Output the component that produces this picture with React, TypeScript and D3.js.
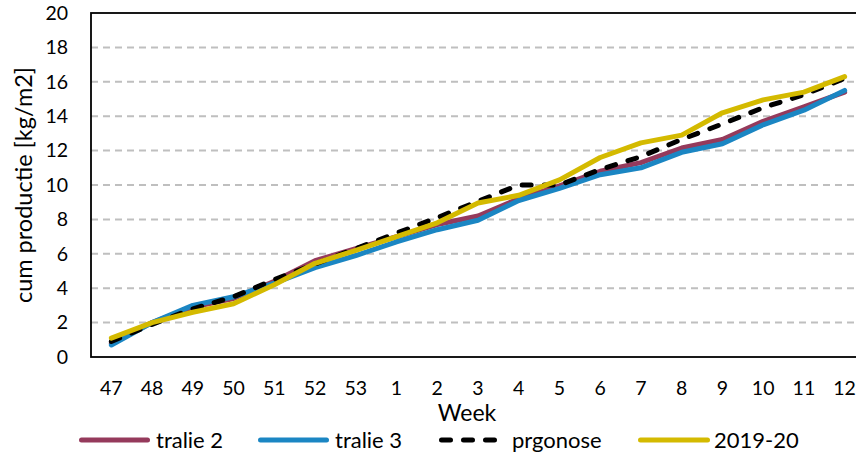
import React from "react";
import * as d3 from "d3";

const weeks = ["47","48","49","50","51","52","53","1","2","3","4","5","6","7","8","9","10","11","12"];
const tralie2 = [0.8, 2.0, 2.9, 3.4, 4.4, 5.6, 6.3, 7.0, 7.7, 8.2, 9.2, 9.95, 10.8, 11.3, 12.15, 12.65, 13.7, 14.55, 15.4];
const tralie3 = [0.7, 2.0, 3.0, 3.5, 4.3, 5.2, 5.9, 6.7, 7.4, 7.95, 9.1, 9.8, 10.6, 11.0, 11.9, 12.4, 13.5, 14.35, 15.5];
const prognose = [0.9, 1.9, 2.8, 3.5, 4.5, 5.4, 6.3, 7.2, 8.1, 9.05, 10.0, 10.0, 10.9, 11.65, 12.65, 13.55, 14.5, 15.25, 16.2];
const season1920 = [1.1, 2.0, 2.6, 3.1, 4.2, 5.45, 6.2, 7.0, 7.8, 8.95, 9.4, 10.3, 11.6, 12.45, 12.9, 14.2, 14.95, 15.4, 16.3];
const yTicks = [0, 2, 4, 6, 8, 10, 12, 14, 16, 18, 20];

const series = [
  { name: "tralie 2", values: tralie2, color: "#953a5c", dash: null },
  { name: "tralie 3", values: tralie3, color: "#1b86c3", dash: null },
  { name: "prgonose", values: prognose, color: "#000000", dash: "9 13" },
  { name: "2019-20", values: season1920, color: "#d4ba00", dash: null },
];

const FONT = "Lato, 'Open Sans', sans-serif";

export default function App() {
  const W = 856, H = 454;
  const left = 91, right = 865, top = 13, bottom = 357;
  const x = d3.scalePoint<string>().domain(weeks).range([left, right]).padding(0.5);
  const y = d3.scaleLinear().domain([0, 20]).range([bottom, top]);
  const line = (vals: number[]) =>
    d3.line<number>().x((_, i) => x(weeks[i]) as number).y((d) => y(d))(vals) || "";

  const legendItems = [
    { x1: 79, x2: 150, tx: 156 },
    { x1: 258, x2: 329, tx: 335 },
    { x1: 439, x2: 500, tx: 512 },
    { x1: 638, x2: 710, tx: 714 },
  ];
  const ly = 440;

  return (
    <svg width={W} height={H} style={{ position: "absolute", left: 0, top: 0, background: "#fff" }} fontFamily={FONT}>
      <rect x={0} y={0} width={W} height={H} fill="#fff" />
      {yTicks.filter((t) => t > 0 && t < 20).map((t) => (
        <line key={t} x1={left} x2={right} y1={y(t)} y2={y(t)} stroke="#bfbfbf" strokeWidth={2} strokeDasharray="7 5" />
      ))}
      {series.map((s) => (
        <path key={s.name} d={line(s.values)} fill="none" stroke={s.color} strokeWidth={5}
          strokeDasharray={s.dash || undefined} strokeLinecap="round" strokeLinejoin="round" />
      ))}
      <rect x={left} y={top} width={right - left} height={bottom - top} fill="none" stroke="#000" strokeWidth={1.8} />
      {yTicks.map((t) => (
        <text key={t} x={68} y={y(t)} dy="0.35em" textAnchor="end" fontSize={19.5} fill="#000">{t}</text>
      ))}
      {weeks.map((w) => (
        <text key={w} x={x(w) as number} y={395} textAnchor="middle" fontSize={19.5} fill="#000">{w}</text>
      ))}
      <text x={467} y={421} textAnchor="middle" fontSize={23} fill="#000">Week</text>
      <text transform={`translate(32,185) rotate(-90)`} textAnchor="middle" fontSize={23.5} fill="#000">cum productie [kg/m2]</text>
      {series.map((s, i) => {
        const it = legendItems[i];
        return (
          <g key={s.name}>
            <line x1={it.x1 + 2.5} x2={it.x2 - 2.5} y1={ly} y2={ly} stroke={s.color} strokeWidth={5}
              strokeLinecap="round" strokeDasharray={s.dash ? "9 13" : undefined} />
            <text x={it.tx} y={ly} dy="0.35em" fontSize={22} fill="#000">{s.name}</text>
          </g>
        );
      })}
    </svg>
  );
}
